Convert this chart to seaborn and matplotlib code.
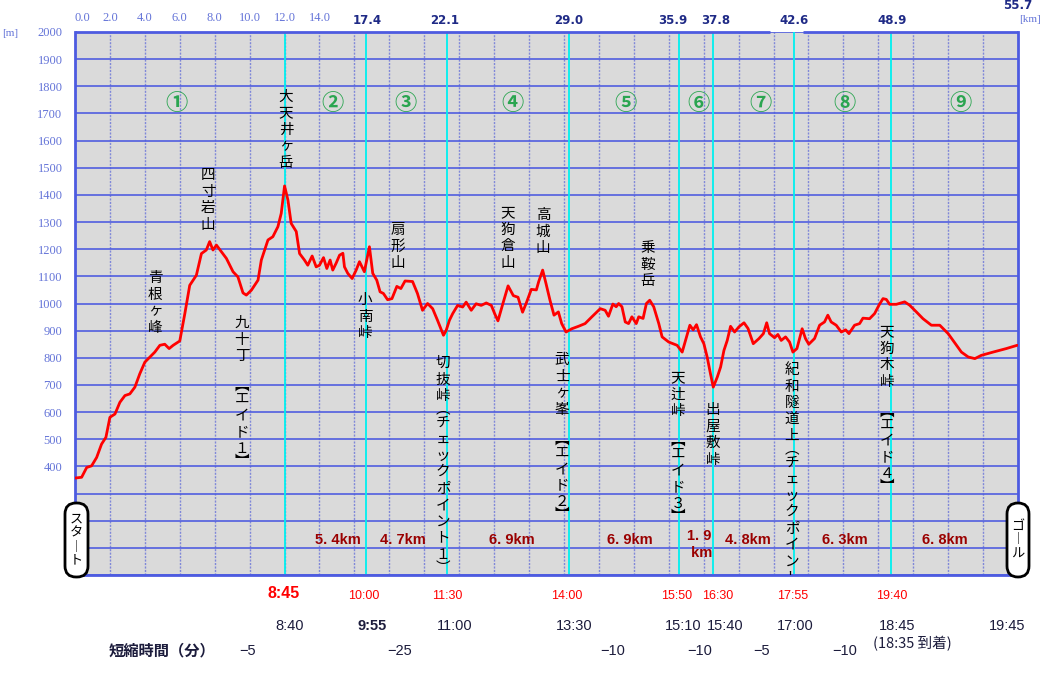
import numpy as np
import matplotlib
matplotlib.use("Agg")
import matplotlib.pyplot as plt
import matplotlib.transforms as mtrans
from matplotlib.patches import FancyBboxPatch
import seaborn as sns

# ---------------- data ----------------
dist_km = [0.0, 0.38, 0.67, 0.95, 1.24, 1.52, 1.77, 2.0, 2.29, 2.57, 2.86, 3.14, 3.43, 3.71, 4.0, 4.29,
           4.57, 4.86, 5.14, 5.39, 5.62, 6.0, 6.29, 6.57, 6.95, 7.24, 7.52, 7.71, 7.9, 8.1, 8.38, 8.67,
           9.05, 9.33, 9.62, 9.81, 10.1, 10.48, 10.67, 11.05, 11.33, 11.62, 11.81, 12.0, 12.19, 12.38,
           12.67, 12.86,
           13.14, 13.33, 13.58, 13.81, 14.0, 14.23, 14.42, 14.61, 14.76, 14.95, 15.15, 15.34, 15.43,
           15.62, 15.87, 16.1, 16.29, 16.57, 16.86, 17.05, 17.28, 17.47, 17.66, 17.9, 18.15, 18.43,
           18.66, 18.9, 19.33, 19.61, 19.9, 20.19, 20.48, 20.76, 21.1, 21.25, 21.44, 21.63, 21.91, 22.2,
           22.4, 22.69, 22.97, 23.26, 23.55, 23.84, 24.03, 24.22, 24.5, 24.8, 25.1, 25.37, 25.63, 25.85,
           26.13, 26.42,
           26.55, 26.78, 26.97, 27.2, 27.43, 27.68, 27.87, 28.12, 28.45, 28.83, 29.21, 29.6, 30.08,
           30.36, 30.55, 30.8, 30.99, 31.13, 31.32, 31.51, 31.7, 31.89, 32.14, 32.28, 32.53, 32.72,
           32.91, 33.14, 33.43, 33.62, 34.0, 34.48, 34.77, 34.96, 35.21, 35.4, 35.59, 35.82, 36.01,
           36.2, 36.39, 36.55, 36.78, 36.97, 37.16, 37.35, 37.54, 37.77, 38.02, 38.31, 38.54, 38.84,
           39.17, 39.42, 39.61,
           39.77, 40.06, 40.25, 40.44, 40.69, 40.92, 41.11, 41.34, 41.64, 41.83, 42.02, 42.35, 42.64,
           42.92, 43.11, 43.3, 43.59, 43.88, 44.13, 44.32, 44.64, 44.93, 45.12, 45.5, 45.79, 46.04,
           46.27, 46.46, 46.65, 47.03, 47.51, 47.79, 48.18, 48.56, 49.04, 49.52, 50.0, 50.48, 50.76,
           51.15, 51.53, 51.9, 52.57, 53.33, 53.95]
elev_m = [357, 360, 396, 402, 433, 482, 507, 581, 593, 636, 661, 667, 692, 741, 784, 803,
          821, 846, 850, 834, 846, 862, 963, 1067, 1104, 1184, 1197, 1228, 1197, 1215, 1191, 1166,
          1117, 1098, 1039, 1031, 1049, 1086, 1160, 1234, 1246, 1283, 1332, 1433, 1382, 1295,
          1265, 1184,
          1160, 1141, 1175, 1135, 1141, 1169, 1129, 1160, 1123, 1148, 1178, 1185, 1135,
          1111, 1092, 1123, 1154, 1117, 1209, 1111, 1086, 1043, 1037, 1014, 1018, 1063,
          1055, 1083, 1081, 1037, 975, 1000, 981, 938, 883, 900, 938, 963, 993, 987,
          1005, 975, 999, 993, 1002, 993, 963, 936, 999, 1065, 1029, 1023, 968, 1003,
          1052, 1050,
          1080, 1123, 1074, 1012, 957, 969, 926, 895, 907, 916, 926, 951, 981,
          975, 953, 998, 988, 1000, 988, 932, 926, 951, 926, 951, 945, 1000,
          1012, 988, 926, 877, 858, 846, 821, 864, 920, 903, 922, 877, 852,
          803, 741, 692, 729, 766, 827, 864, 916, 895, 914, 929, 908, 852,
          871, 889, 929,
          889, 874, 886, 864, 877, 858, 821, 834, 907, 871, 850, 871, 920,
          932, 957, 932, 920, 895, 903, 889, 920, 926, 946, 944, 963, 994,
          1018, 1015, 997, 997, 1006, 994, 969, 944, 920, 920, 889, 846, 821,
          803, 797, 809, 821, 834, 846]
assert len(dist_km) == len(elev_m)

# checkpoints (position on profile axis) and official distances
cp_pos = [16.67, 21.3, 28.3, 34.6, 36.54, 41.18, 46.73]
cp_dist = ["17.4", "22.1", "29.0", "35.9", "37.8", "42.6", "48.9"]
cp_label_pos = [16.72, 21.19, 28.29, 34.24, 36.71, 41.17, 46.78]
peak_pos = 12.0

top_ticks = [0, 2, 4, 6, 8, 10, 12, 14]
top_tick_labels = ["0.0", "2.0", "4.0", "6.0", "8.0", "10.0", "12.0", "14.0"]

# place names (vertical text): x pos, y (m) of first char, text
places = [
    (4.58, 1093, "青根ヶ峰"),
    (7.62, 1472, "四寸岩山"),
    (12.08, 1760, "大天井ヶ岳"),
    (9.56, 928, "九十丁　︻エイド１︼"),
    (16.61, 1012, "小南峠"),
    (18.50, 1270, "扇形山"),
    (21.07, 780, "切抜峠︵チェックポイント１︶"),
    (24.80, 1333, "天狗倉山"),
    (26.80, 1325, "高城山"),
    (27.89, 791, "武士ヶ峯　︻エイド２︼"),
    (32.81, 1204, "乗鞍岳"),
    (34.53, 725, "天辻峠　︻エイド３︼"),
    (36.53, 607, "出屋敷峠"),
    (41.06, 755, "紀和隧道上︵チェックポイント"),
    (46.50, 895, "天狗木峠　︻エイド４︼"),
]

sections = ["①", "②", "③", "④", "⑤", "⑥", "⑦", "⑧", "⑨"]
section_pos = [5.84, 14.77, 18.9, 25.08, 31.5, 35.68, 39.23, 44.09, 50.68]

seg_labels = ["5. 4km", "4. 7km", "6. 9km", "6. 9km", "1. 9\n km", "4. 8km", "6. 3km", "6. 8km"]
seg_pos = [15.06, 18.78, 25.02, 31.78, 35.75, 38.54, 44.09, 49.82]

plan_times = ["8:45", "10:00", "11:30", "14:00", "15:50", "16:30", "17:55", "19:40"]
plan_pos = [11.93, 16.55, 21.3, 28.17, 34.47, 36.82, 41.12, 46.78]

actual_times = ["8:40", "9:55", "11:00", "13:30", "15:10", "15:40", "17:00", "18:45", "19:45"]
actual_pos = [12.31, 17.0, 21.76, 28.57, 34.81, 37.22, 41.23, 47.07, 53.37]

saved_min = ["−5", "−25", "−10", "−10", "−5", "−10"]
saved_pos = [9.9, 18.61, 30.81, 35.79, 39.34, 44.1]

# ---------------- style ----------------
sns.set_style("white")
plt.rcParams["font.family"] = ["Noto Sans CJK JP", "DejaVu Sans"]

W, H = 1042, 700
fig = plt.figure(figsize=(W / 100, H / 100), dpi=100)
L, R, T, B = 75, 1018, 32, 575
ax = fig.add_axes([L / W, 1 - B / H, (R - L) / W, (B - T) / H])
ax.set_facecolor("#dadada")
ax.set_xlim(0, 54)
ax.set_ylim(0, 2000)

BLUE = "#4d5be0"
LBLUE = "#6474d8"
NAVY = "#1f2a86"

ax.set_xticks(np.arange(0, 54, 2))
ax.set_yticks(np.arange(0, 2001, 100))
ax.set_xticklabels([])
ax.set_yticklabels([str(v) if v >= 400 else "" for v in range(0, 2001, 100)],
                   family="Liberation Serif", fontsize=9, color=LBLUE)
ax.tick_params(length=0, pad=9)
ax.grid(axis="y", color=BLUE, lw=1.3, alpha=0.9)
ax.grid(axis="x", color="#8088d8", lw=1.0, ls=(0, (1.5, 1)))
for s in ["left", "right", "bottom"]:
    ax.spines[s].set_color(BLUE)
    ax.spines[s].set_linewidth(2)
ax.spines["top"].set_visible(False)
ax.hlines(2000, 0, 39.8, color=BLUE, lw=2, clip_on=False, zorder=5)
ax.hlines(2000, 41.69, 54, color=BLUE, lw=2, clip_on=False, zorder=5)

# checkpoint lines
for xp in [peak_pos] + cp_pos:
    ax.axvline(xp, color="#00f0f0", lw=1.3, zorder=2)

# profile
sns.lineplot(x=dist_km, y=elev_m, color="#ff0000", lw=2, ax=ax, zorder=4, sort=False)
ax.set_xlabel("")
ax.set_ylabel("")

# top labels
xtop = ax.get_xaxis_transform()
for xv, lab in zip(top_ticks, top_tick_labels):
    ax.text(xv + (0.45 if xv == 0 else 0), 1.026, lab, transform=xtop, ha="center", va="center",
            family="Liberation Serif", fontsize=9, color=LBLUE)
for xv, lab in zip(cp_label_pos, cp_dist):
    ax.text(xv, 1.022, lab, transform=xtop, ha="center", va="center",
            family="DejaVu Sans", fontweight="bold", fontsize=8.5, color=NAVY)
ax.text(54.0, 1.049, "55.7", transform=xtop, ha="center", va="center",
        family="DejaVu Sans", fontweight="bold", fontsize=8.5, color=NAVY)
fig.text(1030 / W, 1 - 19 / H, "[km]", ha="center", va="center",
         family="Liberation Serif", fontsize=8, color=LBLUE)
fig.text(10 / W, 1 - 33 / H, "[m]", ha="center", va="center",
         family="Liberation Serif", fontsize=8, color=LBLUE)

# vertical place names
HALF = set("︻︼︵︶")


def vtext(xv, yv, s, size=10.5, step=16.5, color="black"):
    off = 0.0
    prev_h = None
    for ch in s:
        h = 10.0 if ch in HALF else step
        if prev_h is not None:
            off += (prev_h + h) / 2
        prev_h = h
        ax.annotate(ch, (xv, yv), xytext=(0, -off), textcoords="offset pixels",
                    ha="center", va="center", fontsize=size, color=color,
                    clip_on=True, zorder=6)


for xv, yv, s in places:
    vtext(xv, yv, s)

# section numbers
for xv, s in zip(section_pos, sections):
    ax.text(xv, 1737, s, ha="center", va="center", fontsize=16, fontweight="bold",
            color="#2aa550", zorder=6)

# segment distances
for xv, s in zip(seg_pos, seg_labels):
    ax.text(xv, 129 if "\n" not in s else 112, s, ha="center", va="center", fontsize=10.5,
            family="Liberation Sans", fontweight="bold", color="#9a0000", zorder=6,
            linespacing=1.25)

# bottom rows
xfig = mtrans.blended_transform_factory(ax.transData, fig.transFigure)
for i, (xv, s) in enumerate(zip(plan_pos, plan_times)):
    big = i == 0
    fig.text(xv, 1 - (594 if big else 596) / H, s, transform=xfig, ha="center", va="center",
             family="Liberation Sans", fontsize=11.5 if big else 9, color="#ff0000",
             fontweight="bold" if big else "normal")
for i, (xv, s) in enumerate(zip(actual_pos, actual_times)):
    fig.text(xv, 1 - 626 / H, s, transform=xfig, ha="center", va="center",
             family="Liberation Sans", fontsize=10.5, color="#1c1c3c",
             fontweight="bold" if s == "9:55" else "normal")
fig.text(47.93, 1 - 644 / H, "(18:35 到着)", transform=xfig, ha="center", va="center",
         fontsize=10.5, color="#1c1c3c")
fig.text(5.0, 1 - 650 / H, "短縮時間（分）", transform=xfig, ha="center", va="center",
         fontsize=11, fontweight="bold", color="#1c1c3c")
for xv, s in zip(saved_pos, saved_min):
    fig.text(xv, 1 - 651 / H, s, transform=xfig, ha="center", va="center",
             family="Liberation Sans", fontsize=10.5, color="#1c1c3c")

# start / goal boxes (pixel coordinates)
ident = mtrans.IdentityTransform()
for (x0, x1), chars in [((65, 88), "スタ︱ト"), ((1007, 1029), "ゴ︱ル")]:
    y0, y1 = H - 577, H - 503
    box = FancyBboxPatch((x0, y0), x1 - x0, y1 - y0,
                         boxstyle="round,pad=0,rounding_size=11",
                         transform=ident, facecolor="white", edgecolor="black",
                         lw=2, zorder=10)
    fig.add_artist(box)
    n = len(chars)
    step = 14
    cy = (y0 + y1) / 2
    for i, ch in enumerate(chars):
        yy = cy + (n - 1) / 2 * step - i * step
        fig.text((x0 + x1) / 2, yy, ch, transform=ident, ha="center", va="center",
                 fontsize=9.5, color="black", zorder=11)

fig.savefig("out.png", dpi=100)
